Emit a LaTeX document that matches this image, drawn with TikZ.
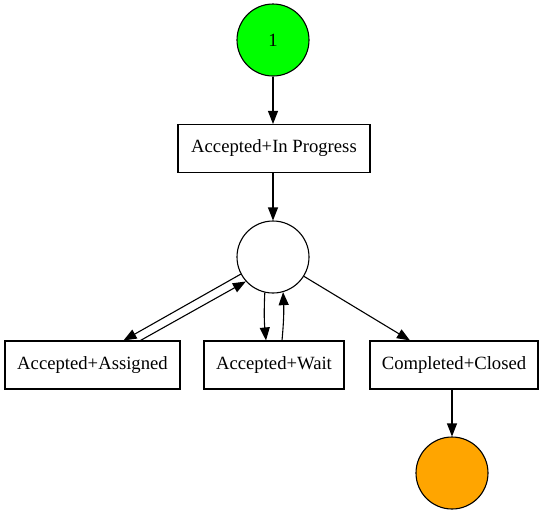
\documentclass[tikz,border=0pt]{standalone}
\usepackage{fontspec}
\setmainfont{Liberation Serif}
\usetikzlibrary{arrows.meta,calc}
\definecolor{pgreen}{HTML}{00FF00}
\definecolor{porange}{HTML}{FFA500}
\begin{document}
\begin{tikzpicture}[x=1pt,y=-1pt,
  place/.style={circle,draw,line width=1.1pt,minimum size=72pt,inner sep=0pt,font=\fontsize{18.67}{21}\selectfont},
  trans/.style={rectangle,draw,line width=1.1pt,minimum height=48pt,inner sep=0pt,font=\fontsize{18.67}{21}\selectfont},
  arc/.style={line width=1.1pt,-{Triangle[length=13pt,width=10pt]}}]
\useasboundingbox (0,0) rectangle (542,515);
\node[place,fill=pgreen] (start) at (273,40) {1};
\node[trans,minimum width=192pt] (prog) at (274,148.5) {Accepted+In Progress};
\node[place] (mid) at (273,257) {};
\node[trans,minimum width=175pt] (assigned) at (92.5,365) {Accepted+Assigned};
\node[trans,minimum width=140pt] (wait) at (274,365) {Accepted+Wait};
\node[trans,minimum width=168pt] (closed) at (454,365) {Completed+Closed};
\node[place,fill=porange] (end) at (452,473) {};
\draw[arc] (start) -- (prog.north -| start);
\draw[arc] (prog.south -| mid) -- (mid);
\draw[arc] (mid.208) -- ([xshift=31pt]assigned.north);
\draw[arc] ([xshift=48pt]assigned.north) -- (mid.222);
\draw[arc] (mid.257) to[bend right=4] ([xshift=-8pt]wait.north);
\draw[arc] ([xshift=8pt]wait.north) to[bend right=4] (mid.286);
\draw[arc] (mid.328) -- ([xshift=-44pt]closed.north);
\draw[arc] (closed.south -| end) -- (end);
\end{tikzpicture}
\end{document}
